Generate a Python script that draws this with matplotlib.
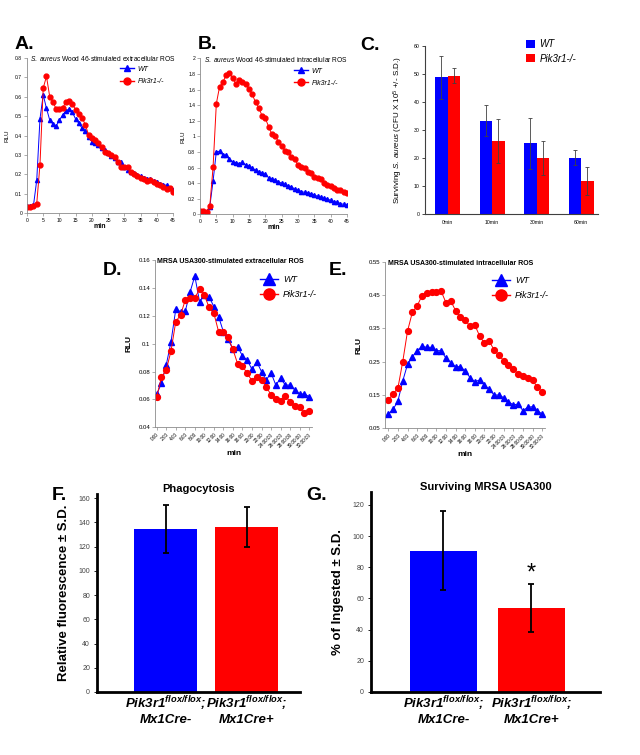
import numpy as np
import matplotlib
matplotlib.use('Agg')
import matplotlib.pyplot as plt
from matplotlib.lines import Line2D

plt.rcParams['font.family'] = ['Liberation Sans', 'DejaVu Sans']
plt.rcParams['mathtext.fontset'] = 'custom'
plt.rcParams['mathtext.rm'] = 'Liberation Sans'
plt.rcParams['mathtext.it'] = 'Liberation Sans:italic'
plt.rcParams['mathtext.bf'] = 'Liberation Sans:bold'
plt.rcParams['mathtext.cal'] = 'Liberation Sans:bold:italic'

BLUE = '#0000ff'
RED = '#ff0000'
W, H = 640, 755

# ---- data ----
a_min = np.arange(46)
a_wt = [0.035, 0.035, 0.04, 0.169, 0.486, 0.61, 0.54, 0.48, 0.458, 0.45, 0.48, 0.506,
        0.527, 0.536, 0.52, 0.484, 0.463, 0.437, 0.423, 0.394, 0.368, 0.363, 0.351,
        0.333, 0.325, 0.308, 0.294, 0.282, 0.264, 0.261, 0.238, 0.221, 0.212, 0.204,
        0.194, 0.19, 0.183, 0.178, 0.173, 0.166, 0.161, 0.152, 0.147, 0.143, 0.131, 0.121]
a_ko = [0.031, 0.031, 0.035, 0.048, 0.25, 0.645, 0.705, 0.601, 0.572, 0.537, 0.536, 0.544,
        0.572, 0.579, 0.563, 0.532, 0.511, 0.492, 0.454, 0.403, 0.385, 0.377, 0.359,
        0.339, 0.316, 0.308, 0.299, 0.29, 0.264, 0.238, 0.238, 0.238, 0.212, 0.2,
        0.192, 0.183, 0.175, 0.166, 0.169, 0.161, 0.152, 0.147, 0.135, 0.126, 0.131, 0.109]

b_wt = [0.043, 0.043, 0.034, 0.1, 0.427, 0.803, 0.808, 0.761, 0.761, 0.705, 0.675, 0.662,
        0.65, 0.667, 0.632, 0.62, 0.59, 0.568, 0.547, 0.526, 0.513, 0.47, 0.453, 0.44,
        0.419, 0.397, 0.385, 0.363, 0.355, 0.321, 0.312, 0.291, 0.282, 0.274, 0.265,
        0.248, 0.231, 0.218, 0.205, 0.197, 0.179, 0.162, 0.154, 0.137, 0.128, 0.12]
b_ko = [0.043, 0.043, 0.034, 0.107, 0.603, 1.419, 1.637, 1.692, 1.786, 1.816, 1.744, 1.675,
        1.718, 1.692, 1.667, 1.607, 1.538, 1.436, 1.368, 1.261, 1.231, 1.124, 1.026,
        1.009, 0.932, 0.88, 0.816, 0.803, 0.739, 0.705, 0.632, 0.603, 0.59, 0.538,
        0.526, 0.483, 0.47, 0.453, 0.397, 0.376, 0.359, 0.342, 0.316, 0.308, 0.291, 0.269]

c_groups = ['0min', '10min', '30min', '60min']
c_wt = [48.8, 33.3, 25.2, 20.1]
c_wt_sd = [7.8, 5.6, 9.0, 2.6]
c_ko = [49.4, 26.1, 20.1, 11.8]
c_ko_sd = [2.6, 8.0, 6.0, 5.1]

de_min = np.arange(33)
de_ticks = ['0:00', '2:00', '4:00', '6:00', '8:00', '10:00', '12:00', '14:00', '16:00',
            '18:00', '20:00', '22:00', '24:00:00', '26:00:00', '28:00:00', '30:00:00',
            '32:00:00']
d_wt = [0.0637, 0.0716, 0.0847, 0.1014, 0.1246, 0.123, 0.1234, 0.137, 0.1485, 0.130,
        0.135, 0.1336, 0.1265, 0.1193, 0.1085, 0.103, 0.0959, 0.0978, 0.0911, 0.0882,
        0.0815, 0.087, 0.0799, 0.0739, 0.0791, 0.0703, 0.0751, 0.0703, 0.0703, 0.0667,
        0.0639, 0.0639, 0.062]
d_ko = [0.062, 0.0759, 0.0811, 0.0947, 0.1158, 0.1205, 0.1313, 0.133, 0.133, 0.1389,
        0.1348, 0.126, 0.1217, 0.1085, 0.1085, 0.1045, 0.0959, 0.0854, 0.0839, 0.0787,
        0.0734, 0.0763, 0.0739, 0.0691, 0.0632, 0.06, 0.0591, 0.0624, 0.0584, 0.0553,
        0.0543, 0.05, 0.0519]
e_wt = [0.093, 0.107, 0.132, 0.192, 0.242, 0.265, 0.283, 0.296, 0.293, 0.293, 0.283,
        0.283, 0.26, 0.247, 0.235, 0.235, 0.222, 0.202, 0.19, 0.195, 0.18, 0.167, 0.15,
        0.15, 0.142, 0.13, 0.12, 0.123, 0.103, 0.113, 0.115, 0.103, 0.093]
e_ko = [0.135, 0.153, 0.171, 0.25, 0.342, 0.398, 0.417, 0.448, 0.457, 0.46, 0.458,
        0.461, 0.427, 0.432, 0.403, 0.383, 0.375, 0.356, 0.36, 0.327, 0.305, 0.312,
        0.285, 0.27, 0.253, 0.24, 0.228, 0.213, 0.206, 0.202, 0.195, 0.173, 0.16]

geno = ['Pik3r1$^{\\mathcal{flox/flox}}$;\nMx1Cre-', 'Pik3r1$^{\\mathcal{flox/flox}}$;\nMx1Cre+']
f_vals = [134.5, 136]
f_sd = [19.7, 16.3]
g_vals = [90.5, 53.8]
g_sd = [25.3, 15.3]


def rect(x0, y0, x1, y1):
    # pixel box -> figure fraction
    return [x0 / W, 1 - y1 / H, (x1 - x0) / W, (y1 - y0) / H]


def style_lines(ax, fs):
    for s in ['top', 'right']:
        ax.spines[s].set_visible(False)
    for s in ['left', 'bottom']:
        ax.spines[s].set_color('#8c8c8c')
        ax.spines[s].set_linewidth(0.6)
    ax.tick_params(length=2, width=0.5, color='#8c8c8c', labelsize=fs, pad=1.5)


def kin_legend(ax, x, y, fs, ms_t, ms_c, spacing):
    handles = [Line2D([], [], color=BLUE, marker='^', ms=ms_t, lw=1),
               Line2D([], [], color=RED, marker='o', ms=ms_c, lw=1)]
    ax.legend(handles, ['WT', 'Pik3r1-/-'], loc='upper left', bbox_to_anchor=(x, y),
              frameon=False, prop={'size': fs, 'style': 'italic'}, handlelength=2.0,
              handletextpad=0.5, labelspacing=spacing, borderpad=0, borderaxespad=0)


fig = plt.figure(figsize=(6.4, 7.55), dpi=100)

# ---- A ----
axA = fig.add_axes(rect(27, 58, 173, 213))
axA.plot(a_min, a_wt, '-^', color=BLUE, ms=3, lw=0.7)
axA.plot(a_min, a_ko, '-o', color=RED, ms=3.5, lw=0.7)
axA.set_xlim(0, 45)
axA.set_ylim(0, 0.8)
axA.set_xticks(np.arange(0, 46, 5))
yt = np.round(np.arange(0, 0.81, 0.1), 1)
axA.set_yticks(yt, labels=[f'{v:g}' for v in yt])
style_lines(axA, 3.6)
axA.set_xlabel('min', fontsize=5, fontweight='bold', labelpad=0)
axA.set_ylabel('RLU', fontsize=4.5, labelpad=4)
axA.text(0.02, 0.995, '$\\mathit{S.\\ aureus}$ Wood 46-stimulated extracellular ROS',
         transform=axA.transAxes, fontsize=4.8, va='center', ha='left')
kin_legend(axA, 0.64, 0.95, 5, 5, 5, 0.75)

# ---- B ----
axB = fig.add_axes(rect(200, 58.3, 347, 214.3))
axB.plot(a_min, b_wt, '-^', color=BLUE, ms=3, lw=0.7)
axB.plot(a_min, b_ko, '-o', color=RED, ms=3.5, lw=0.7)
axB.set_xlim(0, 45)
axB.set_ylim(0, 2)
axB.set_xticks(np.arange(0, 46, 5))
yt = np.round(np.arange(0, 2.01, 0.2), 1)
axB.set_yticks(yt, labels=[f'{v:g}' for v in yt])
style_lines(axB, 3.6)
axB.set_xlabel('min', fontsize=5, fontweight='bold', labelpad=0)
axB.set_ylabel('RLU', fontsize=4.5, labelpad=2)
axB.text(0.027, 0.995, '$\\mathit{S.\\ aureus}$ Wood 46-stimulated intracellular ROS',
         transform=axB.transAxes, fontsize=4.8, va='center', ha='left')
kin_legend(axB, 0.64, 0.94, 5, 5, 5, 0.75)

# ---- C ----
axC = fig.add_axes(rect(425, 46, 598, 214))
xc = np.arange(len(c_groups))
bw = 0.28
ekw = dict(ecolor='#404040', elinewidth=0.6, capsize=1.5, capthick=0.6)
axC.bar(xc - bw / 2, c_wt, bw, yerr=c_wt_sd, color=BLUE, error_kw=ekw, label='WT')
axC.bar(xc + bw / 2, c_ko, bw, yerr=c_ko_sd, color=RED, error_kw=ekw, label='Pik3r1-/-')
axC.set_xlim(-0.51, 3.38)
axC.set_ylim(0, 60)
axC.set_yticks(np.arange(0, 61, 10))
axC.set_xticks(xc, labels=c_groups)
for s in ['top', 'right']:
    axC.spines[s].set_visible(False)
for s in ['left', 'bottom']:
    axC.spines[s].set_color('#404040')
    axC.spines[s].set_linewidth(0.8)
axC.tick_params(axis='y', length=2, width=0.5, labelsize=3.7, pad=2)
axC.tick_params(axis='x', length=0, labelsize=3.7, pad=4)
axC.set_ylabel('Surviving $\\mathit{S.\\ aureus}$ (CFU X 10$^{5}$ +/- S.D.)', fontsize=5.8, labelpad=6)
axC.legend(loc='upper left', bbox_to_anchor=(0.584, 1.04), frameon=False,
           prop={'size': 7, 'style': 'italic'}, handlelength=0.9, handleheight=0.9,
           handletextpad=0.5, labelspacing=0.45, borderpad=0, borderaxespad=0)

# ---- D ----
axD = fig.add_axes(rect(155, 260, 312, 427.3))
axD.plot(de_min, d_wt, '-^', color=BLUE, ms=3.8, lw=0.7)
axD.plot(de_min, d_ko, '-o', color=RED, ms=4.2, lw=0.7)
axD.set_xlim(-0.36, 32.6)
axD.set_ylim(0.04, 0.16)
yt = np.round(np.arange(0.04, 0.161, 0.02), 2)
axD.set_yticks(yt, labels=[f'{v:g}' for v in yt])
axD.set_xticks(np.arange(0, 33, 2), labels=de_ticks, rotation=45, ha='right',
               rotation_mode='anchor')
style_lines(axD, 4.3)
axD.tick_params(axis='x', labelsize=3.4)
axD.set_xlabel('min', fontsize=6, fontweight='bold', labelpad=1)
axD.set_ylabel('RLU', fontsize=6, fontweight='bold', labelpad=4)
axD.text(0.013, 0.994, 'MRSA USA300-stimulated extracellular ROS', transform=axD.transAxes,
         fontsize=5, fontweight='bold', va='center', ha='left')
kin_legend(axD, 0.67, 0.91, 6.5, 8, 8, 0.7)

# ---- E ----
axE = fig.add_axes(rect(385, 261.7, 545, 428.3))
axE.plot(de_min, e_wt, '-^', color=BLUE, ms=3.8, lw=0.7)
axE.plot(de_min, e_ko, '-o', color=RED, ms=4.2, lw=0.7)
axE.set_xlim(-0.69, 32.6)
axE.set_ylim(0.05, 0.55)
yt = np.round(np.arange(0.05, 0.551, 0.1), 2)
axE.set_yticks(yt, labels=[f'{v:g}' for v in yt])
axE.set_xticks(np.arange(0, 33, 2), labels=de_ticks, rotation=45, ha='right',
               rotation_mode='anchor')
style_lines(axE, 4.3)
axE.tick_params(axis='x', labelsize=3.4)
axE.set_xlabel('min', fontsize=6, fontweight='bold', labelpad=1)
axE.set_ylabel('RLU', fontsize=6, fontweight='bold', labelpad=4)
axE.text(0.02, 0.99, 'MRSA USA300-stimulated intracellular ROS', transform=axE.transAxes,
         fontsize=5, fontweight='bold', va='center', ha='left')
kin_legend(axE, 0.67, 0.915, 6.5, 8, 8, 0.7)


# ---- F / G ----
def bar_panel(ax, vals, sd, title, ylabel, ymax, ystep, xlim):
    ax.bar([0, 1], vals, 0.77, yerr=sd, color=[BLUE, RED],
           error_kw=dict(ecolor='black', elinewidth=1.3, capsize=2.5, capthick=1.3))
    ax.set_xlim(*xlim)
    ax.set_ylim(0, ymax)
    ax.set_yticks(np.arange(0, ymax, ystep))
    ax.set_xticks([0, 1], labels=geno, fontsize=9.5, fontweight='bold',
                  fontstyle='italic', linespacing=1.05)
    for s in ['top', 'right']:
        ax.spines[s].set_visible(False)
    for s in ['left', 'bottom']:
        ax.spines[s].set_linewidth(2)
        ax.spines[s].set_color('black')
    ax.tick_params(axis='y', length=2, width=0.6, labelsize=5, labelcolor='#444444', pad=3)
    ax.tick_params(axis='x', length=0, pad=2)
    ax.set_title(title, fontsize=8, fontweight='bold', pad=-2)
    ax.set_ylabel(ylabel, fontsize=9.5, fontweight='bold', labelpad=6)


axF = fig.add_axes(rect(97, 494.4, 300, 692))
bar_panel(axF, f_vals, f_sd, 'Phagocytosis', 'Relative fluorescence ± S.D.', 163, 20,
          (-0.846, 1.66))

axG = fig.add_axes(rect(371, 492, 600, 692))
bar_panel(axG, g_vals, g_sd, 'Surviving MRSA USA300', '% of Ingested ± S.D.', 128.3, 20,
          (-0.824, 1.78))
axG.text(1, g_vals[1] + g_sd[1] + 7, '*', ha='center', va='center', fontsize=17)

# ---- panel letters ----
for lab, x, y in [('A.', 15, 49), ('B.', 198, 49), ('C.', 360, 50), ('D.', 103, 275),
                  ('E.', 329, 275), ('F.', 52, 500), ('G.', 306, 500)]:
    fig.text(x / W, 1 - y / H, lab, fontsize=14, fontweight='bold', va='baseline')

fig.savefig('out.png', dpi=100)
